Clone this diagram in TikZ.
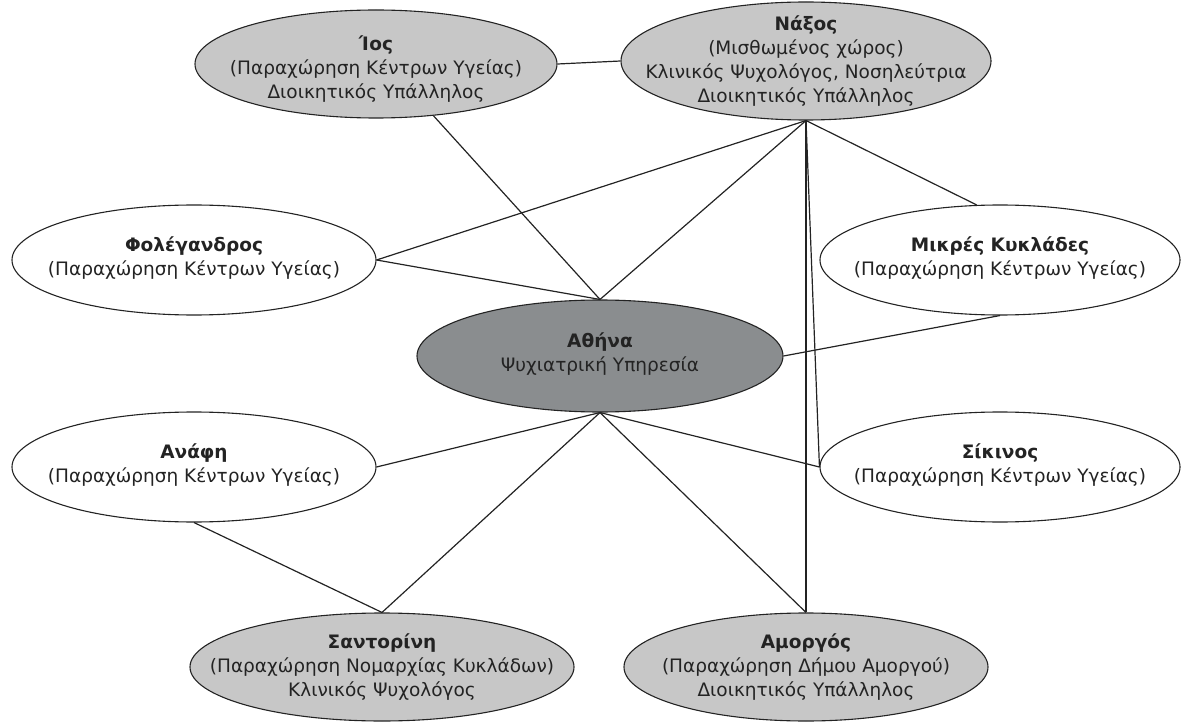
\documentclass[tikz,border=0pt]{standalone}
\usepackage{fontspec}
\setmainfont{DejaVu Sans}
\usetikzlibrary{shapes.geometric}
\definecolor{litegray}{RGB}{199,199,199}
\definecolor{darkgray}{RGB}{138,141,143}
\definecolor{inkc}{RGB}{35,35,35}
\tikzset{
  isl/.style={ellipse, draw=inkc, line width=1.1pt, inner sep=0pt},
  lite/.style={isl, fill=litegray},
  plain/.style={isl, fill=white},
  darkisl/.style={isl, fill=darkgray},
  txt/.style={align=center, inner sep=0pt, text=inkc, font=\fontsize{18.5}{24}\selectfont},
  link/.style={line width=1.2pt, draw=inkc}
}
\begin{document}
\begin{tikzpicture}[x=1pt,y=-1pt]
\useasboundingbox (0,0) rectangle (1184,722);
% islands
\node[lite, minimum width=362pt, minimum height=108pt] (ios) at (376,64) {};
\node[lite, minimum width=370pt, minimum height=118pt] (nax) at (806,61) {};
\node[plain, minimum width=364pt, minimum height=110pt] (fol) at (194,260) {};
\node[plain, minimum width=360pt, minimum height=110pt] (mik) at (1000,260) {};
\node[darkisl, minimum width=366pt, minimum height=112pt] (ath) at (600,356) {};
\node[plain, minimum width=364pt, minimum height=110pt] (ana) at (194,467) {};
\node[plain, minimum width=360pt, minimum height=110pt] (sik) at (1000,467) {};
\node[lite, minimum width=384pt, minimum height=108pt] (san) at (382,667) {};
\node[lite, minimum width=364pt, minimum height=108pt] (amo) at (806,667) {};
% connectors
\draw[link] (ios.east) -- (nax.west);
\draw[link] (ios.-42) -- (ath.north);
\draw[link] (nax.south) -- (ath.north);
\draw[link] (nax.south) -- (fol.east);
\draw[link] (fol.east) -- (ath.north);
\draw[link] (nax.south) -- (mik.113);
\draw[link] (nax.south) -- (amo.north);
\draw[link] (nax.south) -- (sik.west);
\draw[link] (ath.east) -- (mik.south);
\draw[link] (ath.south) -- (sik.west);
\draw[link] (ath.south) -- (ana.east);
\draw[link] (ath.south) -- (san.north);
\draw[link] (ath.south) -- (amo.north);
\draw[link] (ana.south) -- (san.north);
% texts
\node[txt] (iost) at ([yshift=-5pt]ios.center) {\textbf{Ίος}\\(Παραχώρηση Κέντρων Υγείας)\\Διοικητικός Υπάλληλος};
\node[txt] (naxt) at (nax.center) {\textbf{Νάξος}\\(Μισθωμένος χώρος)\\Κλινικός Ψυχολόγος, Νοσηλεύτρια\\Διοικητικός Υπάλληλος};
\node[txt] (folt) at ([yshift=2pt]fol.center) {\textbf{Φολέγανδρος}\\(Παραχώρηση Κέντρων Υγείας)};
\node[txt] (mikt) at ([yshift=2pt]mik.center) {\textbf{Μικρές Κυκλάδες}\\(Παραχώρηση Κέντρων Υγείας)};
\node[txt] (atht) at ([yshift=2pt]ath.center) {\textbf{Αθήνα}\\Ψυχιατρική Υπηρεσία};
\node[txt] (anat) at ([yshift=2pt]ana.center) {\textbf{Ανάφη}\\(Παραχώρηση Κέντρων Υγείας)};
\node[txt] (sikt) at ([yshift=2pt]sik.center) {\textbf{Σίκινος}\\(Παραχώρηση Κέντρων Υγείας)};
\node[txt] (sant) at (san.center) {\textbf{Σαντορίνη}\\(Παραχώρηση Νομαρχίας Κυκλάδων)\\Κλινικός Ψυχολόγος};
\node[txt] (amot) at (amo.center) {\textbf{Αμοργός}\\(Παραχώρηση Δήμου Αμοργού)\\Διοικητικός Υπάλληλος};
\end{tikzpicture}
\end{document}
